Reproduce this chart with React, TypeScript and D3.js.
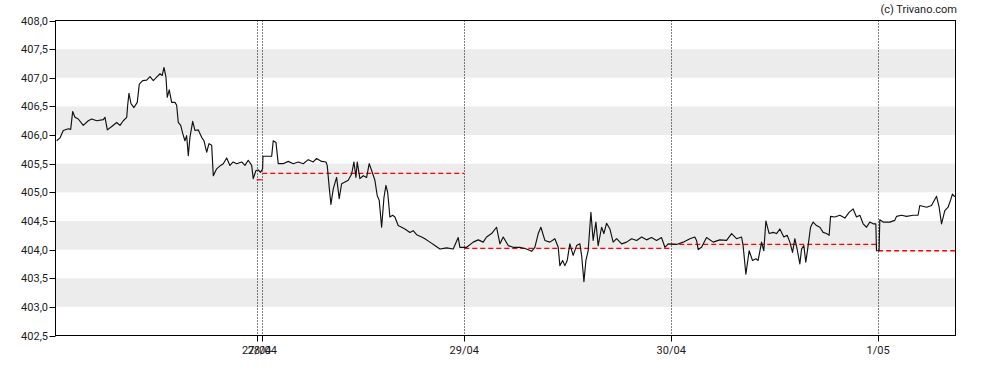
import * as d3 from 'd3'

// hours since start of chart window
const times = [
  0.14, 0.52, 0.9, 1.48, 1.76, 1.99, 2.26, 2.64, 3.22, 3.8, 4.2, 4.78, 5.54, 5.74, 6.01, 6.52, 7.1, 7.48, 7.86, 8.26,
  8.37, 8.52, 8.75, 9.1, 9.48, 9.72, 10.11, 10.57, 10.96, 11.34, 11.73, 12.12, 12.38, 12.58, 12.81, 12.96, 13.19, 13.47, 13.86, 14.05,
  14.24, 14.52, 14.75, 15.01, 15.21, 15.4, 15.59, 15.91, 16.17, 16.56, 16.95, 17.22, 17.53, 17.8, 18.11, 18.3, 18.69, 19.15, 19.46, 19.85,
  20.23, 20.61, 21.01, 21.59, 21.97, 22.35, 22.75, 22.93, 23.25, 23.51, 23.79, 24.02, 24.06, 25.07, 25.25, 25.57, 25.83, 26.41, 26.99, 27.57,
  28.15, 28.73, 29.31, 29.89, 30.28, 30.86, 31.36, 31.51, 31.74, 31.94, 32.21, 32.6, 32.9, 33.18, 33.57, 33.95, 34.34, 34.61, 34.84, 34.99,
  35.3, 35.69, 36.08, 36.38, 36.66, 37.04, 37.31, 37.54, 37.82, 38.09, 38.32, 38.52, 38.78, 39.1, 39.36, 39.74, 40.14, 40.52, 41.1, 41.48,
  41.88, 42.46, 42.84, 43.42, 44.0, 44.58, 45.36, 46.12, 46.7, 46.9, 47.68, 48.44, 49.02, 49.6, 49.99, 50.57, 51.15, 51.54, 51.92, 52.5,
  53.08, 53.86, 54.63, 55.21, 55.59, 55.98, 56.29, 56.75, 57.33, 57.91, 58.3, 58.49, 58.81, 59.07, 59.34, 59.65, 60.03, 60.43, 60.81, 61.01,
  61.28, 61.51, 61.77, 62.09, 62.35, 62.67, 62.93, 63.33, 63.59, 63.91, 64.29, 64.67, 65.07, 65.65, 66.23, 66.81, 67.39, 67.97, 68.54, 69.12,
  69.7, 70.28, 70.67, 71.05, 72.02, 72.79, 73.57, 74.14, 74.34, 74.53, 74.92, 75.5, 76.27, 77.04, 77.82, 78.4, 78.98, 79.56, 79.74, 80.06,
  80.44, 80.83, 81.22, 81.48, 81.88, 82.14, 82.38, 82.76, 83.22, 83.62, 84.0, 84.46, 84.85, 85.16, 85.47, 85.74, 86.0, 86.32, 86.52, 86.78,
  87.01, 87.28, 87.56, 87.86, 88.25, 88.64, 89.02, 89.41, 89.72, 89.88, 90.38, 90.96, 91.54, 92.03, 92.5, 92.89, 93.28, 93.66, 94.05, 94.43,
  94.82, 95.13, 95.21, 95.51, 95.59, 95.98, 96.75, 97.33, 97.53, 98.11, 98.69, 99.45, 100.03, 100.23, 101.01, 101.59, 102.17, 102.47, 102.75, 103.13,
  103.51, 103.79, 104.02, 104.29,
]

const prices = [
  405.9, 405.95, 406.08, 406.11, 406.1, 406.41, 406.31, 406.28, 406.17, 406.25, 406.28, 406.25, 406.27, 406.31, 406.09, 406.15, 406.22, 406.17, 406.25, 406.31,
  406.52, 406.73, 406.55, 406.48, 406.57, 406.89, 406.95, 406.96, 407.02, 406.95, 407.01, 407.07, 407.04, 407.18, 407.01, 406.66, 406.79, 406.57, 406.57, 406.52,
  406.22, 406.17, 406.03, 405.9, 405.99, 405.64, 405.96, 406.24, 406.08, 406.09, 405.96, 405.9, 405.7, 405.85, 405.82, 405.29, 405.41, 405.47, 405.5, 405.6,
  405.47, 405.53, 405.5, 405.53, 405.47, 405.56, 405.47, 405.24, 405.38, 405.39, 405.35, 405.41, 405.63, 405.63, 405.9, 405.87, 405.5, 405.5, 405.54, 405.5,
  405.53, 405.5, 405.57, 405.53, 405.59, 405.54, 405.53, 405.47, 405.09, 404.79, 405.06, 405.26, 404.89, 405.15, 405.18, 405.21, 405.32, 405.53, 405.26, 405.53,
  405.24, 405.29, 405.26, 405.5, 405.38, 405.21, 404.94, 404.86, 404.39, 404.91, 405.12, 405.0, 404.57, 404.6, 404.57, 404.42, 404.39, 404.36, 404.3, 404.33,
  404.26, 404.22, 404.19, 404.13, 404.07, 404.01, 404.03, 404.01, 404.21, 404.04, 404.04, 404.13, 404.17, 404.13, 404.22, 404.28, 404.39, 404.1, 404.22, 404.07,
  404.04, 404.04, 404.01, 403.97, 404.04, 404.28, 404.39, 404.16, 404.13, 404.19, 404.04, 403.72, 403.81, 403.72, 403.81, 404.1, 403.9, 404.07, 404.1, 403.9,
  403.44, 403.81, 403.98, 404.65, 404.16, 404.48, 404.07, 404.39, 404.28, 404.46, 404.36, 404.13, 404.19, 404.1, 404.13, 404.19, 404.16, 404.22, 404.17, 404.21,
  404.16, 404.21, 404.04, 404.1, 404.09, 404.13, 404.19, 404.22, 404.16, 404.0, 404.04, 404.21, 404.13, 404.17, 404.16, 404.28, 404.19, 404.22, 404.07, 403.57,
  403.98, 403.81, 403.84, 403.81, 404.13, 403.98, 404.5, 404.28, 404.3, 404.28, 404.36, 404.22, 404.25, 404.13, 403.95, 404.19, 404.01, 403.75, 404.01, 404.07,
  403.78, 404.07, 404.39, 404.48, 404.42, 404.39, 404.3, 404.28, 404.25, 404.58, 404.57, 404.6, 404.55, 404.65, 404.71, 404.57, 404.6, 404.45, 404.39, 404.48,
  404.45, 404.45, 403.98, 403.98, 404.52, 404.48, 404.48, 404.51, 404.58, 404.6, 404.58, 404.6, 404.6, 404.77, 404.74, 404.77, 404.93, 404.74, 404.45, 404.68,
  404.74, 404.86, 404.97, 404.92,
]

// previous close per session (dashed red)
const refStart = [23.33, 23.98, 47.4, 71.4, 95.4]
const refEnd = [23.98, 47.4, 71.4, 95.4, 104.37]
const refValue = [405.22, 405.33, 404.02, 404.09, 403.98]

const dayTicks = [23.33, 23.98, 47.4, 71.4, 95.4]
const dayLabels = ['27/04', '28/04', '29/04', '30/04', '1/05']

const yTicks = [402.5, 403, 403.5, 404, 404.5, 405, 405.5, 406, 406.5, 407, 407.5, 408]
const bands = [403, 404, 405, 406, 407]

const W = 988
const H = 370
const left = 55.5
const right = 955.5
const top = 20.5
const bottom = 335.5
const font = 'Roboto, "Liberation Sans", Arial, sans-serif'
const textColor = '#1b1b22'

export default function App() {
  const x = d3.scaleLinear().domain([0, 104.37]).range([left, right])
  const y = d3.scaleLinear().domain([402.5, 408]).range([bottom, top])

  const idx = d3.range(times.length)
  const line = d3.line<number>()
    .x((i) => x(times[i]))
    .y((i) => y(prices[i]))
  const fmt = (v: number) => v.toFixed(1).replace('.', ',')

  return (
    <svg width={W} height={H} style={{ position: 'absolute', left: 0, top: 0, display: 'block' }}>
      <rect x={0} y={0} width={W} height={H} fill="#fff" />
      {bands.map((b) => (
        <rect key={b} x={left} y={y(b + 0.5)} width={right - left} height={y(b) - y(b + 0.5)} fill="#ececec" />
      ))}
      {dayTicks.map((t, i) => (
        <g key={dayLabels[i]}>
          <line x1={Math.round(x(t)) + 0.5} x2={Math.round(x(t)) + 0.5} y1={top} y2={bottom} stroke="#000" strokeDasharray="1,2" />
          <line x1={Math.round(x(t)) + 0.5} x2={Math.round(x(t)) + 0.5} y1={bottom} y2={bottom + 6} stroke="#000" />
          <text x={x(t)} y={354} textAnchor="middle" fontFamily={font} fontSize={11} fill={textColor}>{dayLabels[i]}</text>
        </g>
      ))}
      {refValue.map((v, i) => (
        <line key={i} x1={x(refStart[i])} x2={x(refEnd[i])} y1={y(v)} y2={y(v)}
          stroke="#ff0000" strokeWidth={1.3} strokeDasharray="5,3" />
      ))}
      <path d={line(idx) ?? ''} fill="none" stroke="#111" strokeWidth={1.15} strokeLinejoin="round" />
      <rect x={left} y={top} width={right - left} height={bottom - top} fill="none" stroke="#000" />
      {yTicks.map((v) => (
        <g key={v}>
          <line x1={left - 6} x2={left} y1={Math.round(y(v)) + 0.5} y2={Math.round(y(v)) + 0.5} stroke="#000" />
          <text x={48} y={y(v) + 4} textAnchor="end" fontFamily={font} fontSize={11} fill={textColor}>{fmt(v)}</text>
        </g>
      ))}
      <text x={957} y={13} textAnchor="end" fontFamily={font} fontSize={11} fill={textColor}>(c) Trivano.com</text>
    </svg>
  )
}
